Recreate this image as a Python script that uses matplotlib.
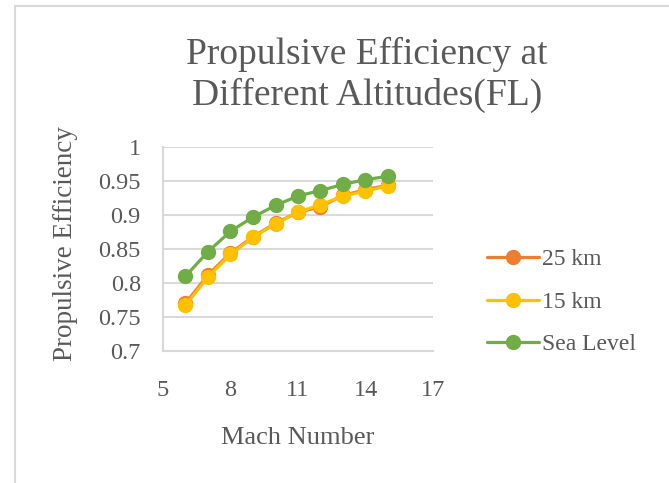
import matplotlib.pyplot as plt
import matplotlib.patches as patches

# Data
mach = [6, 7, 8, 9, 10, 11, 12, 13, 14, 15]
eff_25km = [0.770, 0.812, 0.844, 0.868, 0.888, 0.904, 0.912, 0.929, 0.937, 0.944]
eff_15km = [0.767, 0.809, 0.842, 0.867, 0.887, 0.904, 0.915, 0.928, 0.935, 0.943]
eff_sea = [0.810, 0.846, 0.876, 0.897, 0.914, 0.928, 0.936, 0.945, 0.952, 0.957]
labels = ['25 km', '15 km', 'Sea Level']
x_ticks = [5, 8, 11, 14, 17]
y_ticks = [0.7, 0.75, 0.8, 0.85, 0.9, 0.95, 1.0]
y_tick_labels = ['0.7', '0.75', '0.8', '0.85', '0.9', '0.95', '1']

txt = '#595959'
grid = '#D9D9D9'
colors = ['#ED7D31', '#FFC000', '#70AD47']

plt.rcParams['font.family'] = ['Liberation Serif', 'DejaVu Serif']

W, H = 669, 483
fig = plt.figure(figsize=(W / 100, H / 100), dpi=100)

# outer chart frame
frame = patches.Rectangle((15 / W, -0.1), 1.2, 1.1 - 6 / H, transform=fig.transFigure,
                          facecolor='none', edgecolor=grid, linewidth=1.5)
fig.patches.append(frame)

ax = fig.add_axes([163 / W, 1 - 351 / H, 270 / W, 204 / H])

for series, color, lab in zip([eff_25km, eff_15km, eff_sea], colors, labels):
    ax.plot(mach, series, color=color, linewidth=2.3, marker='o', markersize=10,
            label=lab, solid_capstyle='round')

ax.set_xlim(5, 17)
ax.set_ylim(0.7, 1.0)
ax.set_xticks(x_ticks)
ax.set_yticks(y_ticks)
ax.set_yticklabels(y_tick_labels)
ax.tick_params(length=0, labelsize=17.5, labelcolor=txt)
ax.tick_params(axis='y', pad=16)
ax.tick_params(axis='x', pad=21)
ax.grid(axis='y', color=grid, linewidth=1.5)
ax.set_axisbelow(True)
for s in ['top', 'right']:
    ax.spines[s].set_visible(False)
ax.spines['left'].set_color(grid)
ax.spines['left'].set_linewidth(1.5)
ax.spines['bottom'].set_color(grid)
ax.spines['bottom'].set_linewidth(1.5)

fig.text(367 / W, 1 - 75 / H, 'Propulsive Efficiency at\nDifferent Altitudes(FL)',
         ha='center', va='center', fontsize=27, color=txt, linespacing=1.2)
fig.text(66 / W, 1 - 244 / H, 'Propulsive Efficiency', rotation=90,
         ha='center', va='center', fontsize=19.5, color=txt)
fig.text(298 / W, 1 - 438 / H, 'Mach Number', ha='center', va='center',
         fontsize=19, color=txt)

leg = fig.legend(loc='center left', bbox_to_anchor=(478 / W, 1 - 302 / H),
                 frameon=False, fontsize=17, labelcolor=txt, handlelength=2.2,
                 handletextpad=0.1, labelspacing=0.88, borderaxespad=0)

fig.savefig('out.png', dpi=100)
